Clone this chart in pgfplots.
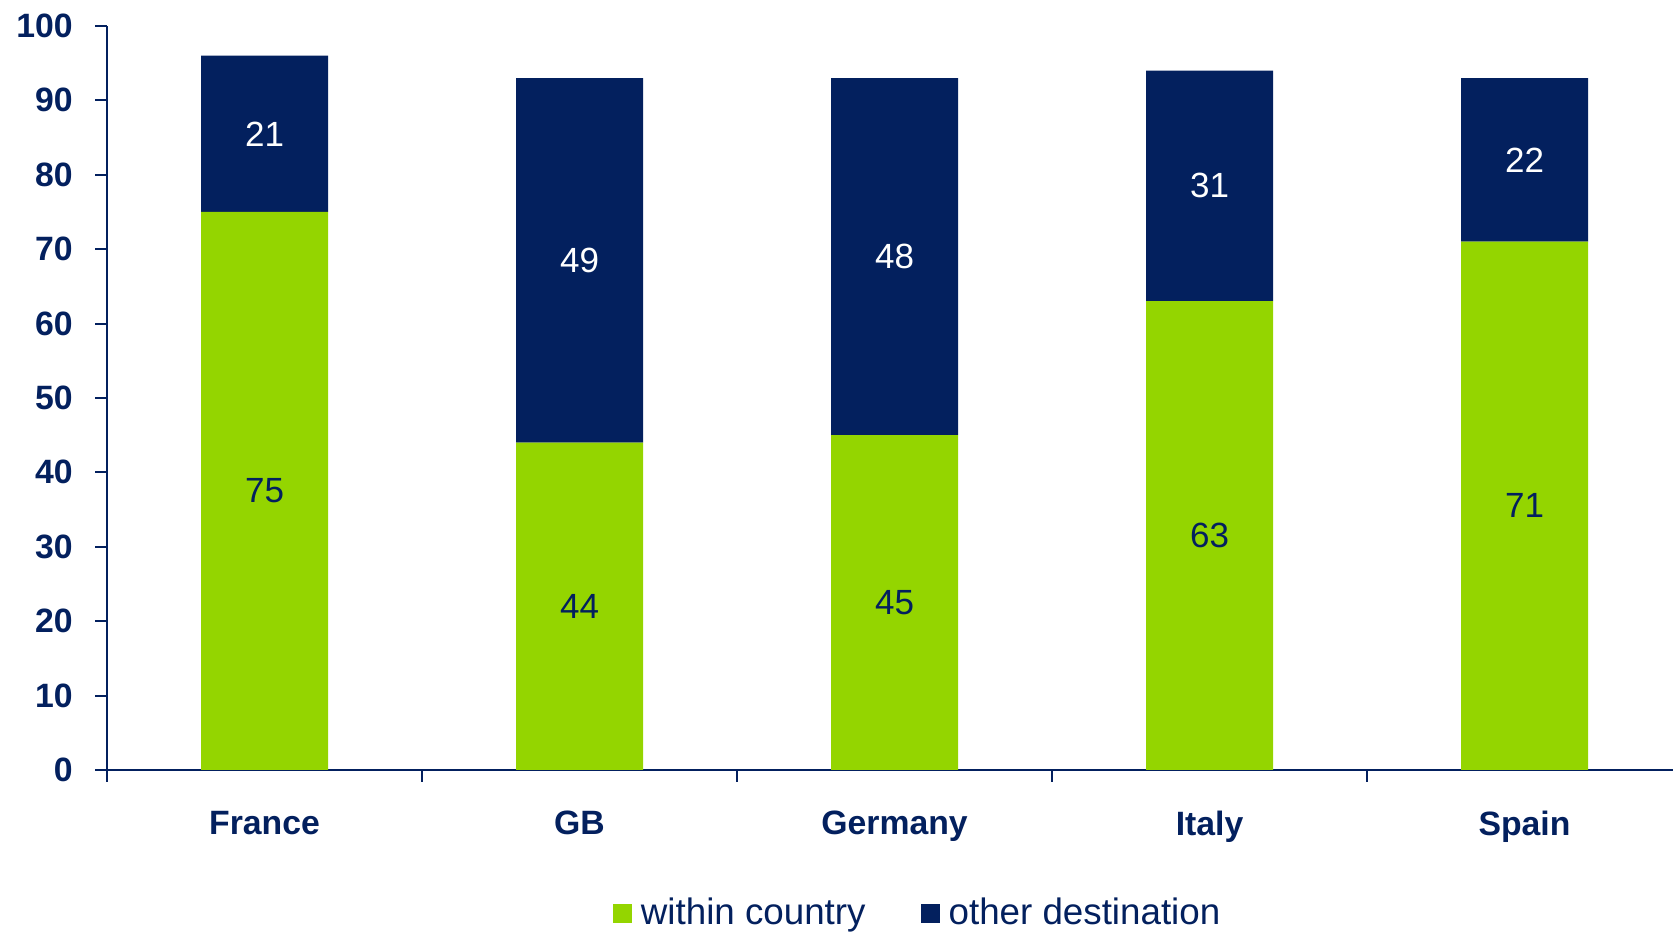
\documentclass[border=0pt]{standalone}
\usepackage{pgfplots}
\usepackage{pgfplotstable}
\pgfplotsset{compat=1.18}
\usepackage{fontspec}
\setmainfont{Liberation Sans}
\definecolor{navy}{RGB}{3,32,94}
\definecolor{lime}{RGB}{148,213,0}

\pgfplotstableread{
x within other
0 75 21
1 44 49
2 45 48
3 63 31
4 71 22
}\datatable

\begin{document}
\begin{tikzpicture}
\begin{axis}[
  scale only axis, width=626.4pt, height=297.6pt,
  ybar stacked, bar width=50.8pt,
  xmin=-0.5, xmax=4.4714, ymin=0, ymax=100,
  axis x line*=bottom, axis y line*=left,
  axis line style={navy, line width=0.8pt, -},
  xtick={0,1,2,3,4}, xticklabels={France,GB,Germany,Italy,Spain},
  major x tick style={draw=none},
  minor xtick={-0.5,0.5,1.5,2.5,3.5},
  ytick={0,10,...,100},
  tick align=outside,
  major tick length=4.8pt, minor tick length=4.8pt,
  tick style={navy, line width=0.8pt},
  tick label style={font=\bfseries\fontsize{13.5}{16}\selectfont, text=navy},
  /pgf/number format/assume math mode=true,
  xticklabel style={yshift=-8pt},
  yticklabel style={xshift=-5.4pt},
  legend image code/.code={\fill[#1] (0pt,-3.8pt) rectangle (7.6pt,3.8pt);},
  legend style={at={(0.517,-0.193)}, anchor=center, draw=none,
    legend columns=2, font=\fontsize{14.7}{17}\selectfont, text=navy,
    nodes={inner xsep=0pt},
    /tikz/every odd column/.append style={column sep=3.6pt},
    /tikz/every even column/.append style={column sep=22pt}},
  nodes near coords,
  every node near coord/.append style={anchor=center,
    font=\fontsize{14}{17}\selectfont},
]
\addplot[fill=lime, draw=none, nodes near coords style={text=navy}]
  table[x=x, y=within] {\datatable};
\addplot[fill=navy, draw=none, nodes near coords style={text=white}]
  table[x=x, y=other] {\datatable};
\legend{within country, other destination}
\coordinate (bbsw) at (rel axis cs:-0.06833,-0.2204);
\coordinate (bbne) at (rel axis cs:1,1.0349);
\end{axis}
\pgfresetboundingbox
\useasboundingbox (bbsw) rectangle (bbne);
\end{tikzpicture}
\end{document}
